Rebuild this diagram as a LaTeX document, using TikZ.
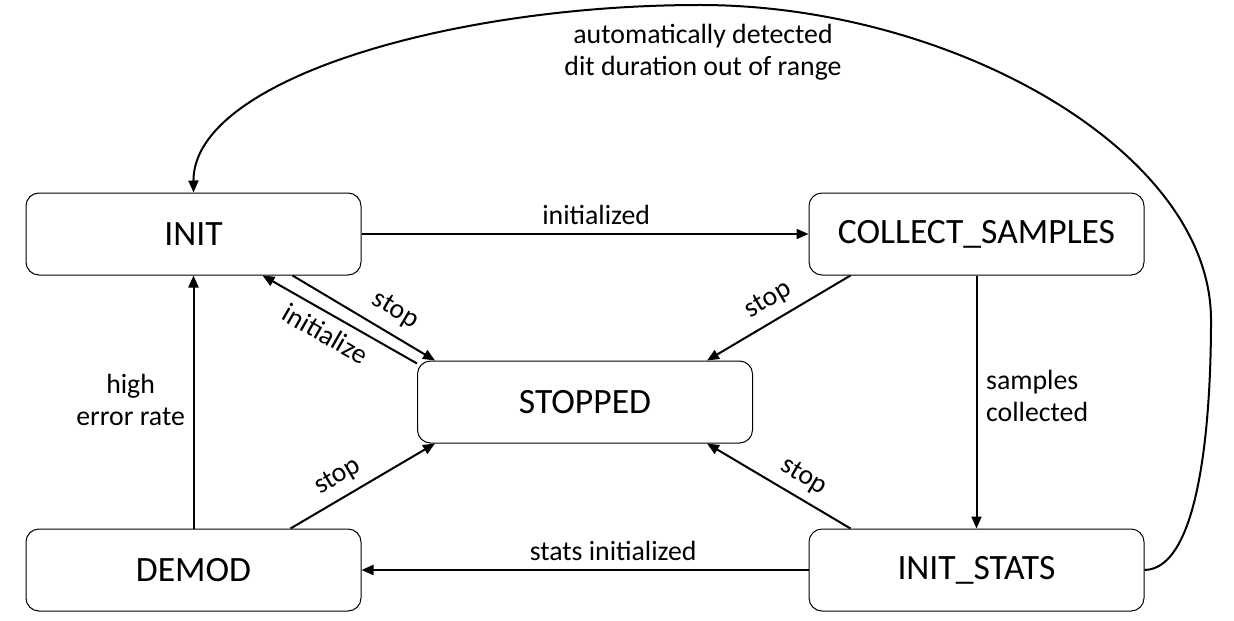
\documentclass[tikz,border=0pt]{standalone}
\usepackage{fontspec}
\setmainfont{Carlito}
\usetikzlibrary{arrows.meta, positioning, calc}

\begin{document}
\begin{tikzpicture}[x=0.5pt, y=-0.5pt, node distance=126.5pt and 223.5pt,
    >={Triangle[length=6pt, width=5pt]},
    state/.style={rectangle, draw, line width=0.5pt, rounded corners=6.5pt, text centered, minimum width=167.5pt, minimum height=41pt, inner sep=0pt, font=\fontsize{17.8}{21}\selectfont},
    trans/.style={->, line width=1pt},
    lbl/.style={font=\fontsize{13.9}{16}\selectfont}]

    \useasboundingbox (0,0) rectangle (1234,620);

    \node (init) [state] at (193.5,234) {INIT};
    \node (collect) [state, right=of init] {COLLECT\_SAMPLES};
    \node (demod) [state, below=of init] {DEMOD};
    \node (stats) [state, right=of demod] {INIT\_STATS};
    \node (stopped) [state] at ($(init)!0.5!(stats)$) {STOPPED};

    % Main cycle
    \draw [trans] (init.east) -- (collect.west) node[lbl, pos=0.525, above=1pt] {initialized};
    \draw [trans] (collect.south) -- (stats.north) node[lbl, midway, right=1pt, yshift=3pt, align=left] {samples\\collected};
    \draw [trans] (stats.west) -- (demod.east) node[lbl, pos=0.437, above=1pt] {stats initialized};
    \draw [trans] (demod.north) -- (init.south) node[lbl, midway, left=0.5pt, yshift=1pt, align=center] {high\\error rate};

    % Stop transitions
    \draw [trans] ($(init.south east)+(-69,0)$) -- ($(stopped.north west)+(18,0)$) node[lbl, pos=0.64, sloped, above=2pt] {stop};
    \draw [trans] ($(stopped.north west)+(0,3)$) -- ($(init.south east)+(-99,0)$) node[lbl, pos=0.53, sloped, below=1pt] {initialize};
    \draw [trans] ($(collect.south west)+(42,0)$) -- ($(stopped.north east)+(-46,0)$) node[lbl, midway, sloped, above=1pt] {stop};
    \draw [trans] ($(demod.north east)+(-71,0)$) -- ($(stopped.south west)+(18,0)$) node[lbl, pos=0.4, sloped, above=1pt] {stop};
    \draw [trans] ($(stats.north west)+(42,0)$) -- ($(stopped.south east)+(-46,0)$) node[lbl, pos=0.4, sloped, above=1pt] {stop};

    % Out of range
    \coordinate (turn) at (1211,320);
    \coordinate (top) at (700,5);
    \draw [trans] (stats.east) .. controls (1200,569) and (1211,420) .. (turn)
        .. controls (1211,150) and (950,5) .. (top)
        .. controls (450,5) and (193,80) .. (init.north);
    \node (oor) [lbl, align=center] at (703,52) {automatically detected\\dit duration out of range};

\end{tikzpicture}
\end{document}
